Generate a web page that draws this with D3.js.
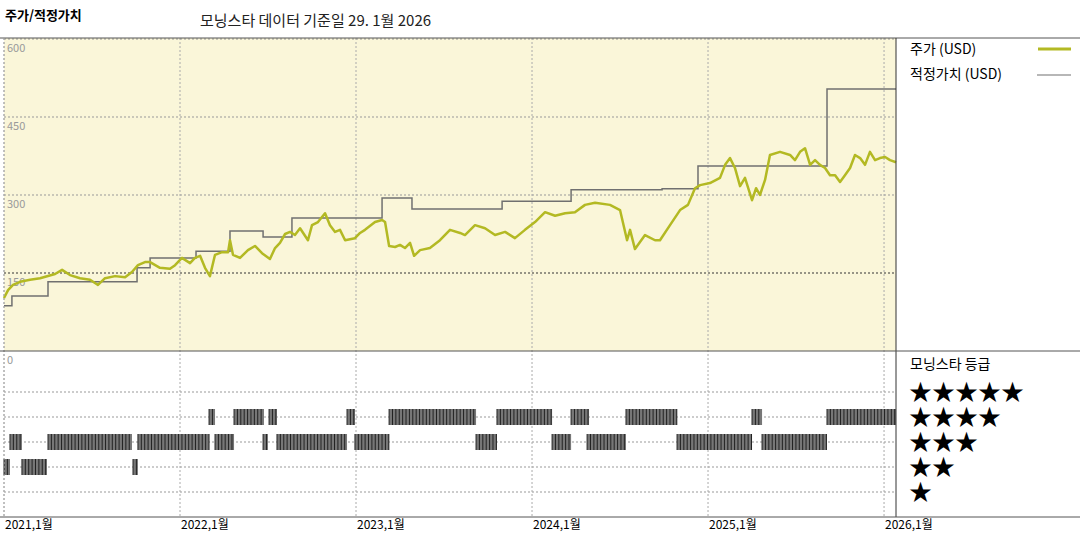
<!DOCTYPE html>
<html>
<head>
<meta charset="utf-8">
<script src="https://cdn.jsdelivr.net/npm/d3@7"></script>
<style>
  body { margin: 0; background: #fff; }
  text { font-family: "Noto Sans CJK KR", "DejaVu Sans", sans-serif; }
</style>
</head>
<body>
<svg id="chart" width="1080" height="540"></svg>
<script>
'use strict';

// time in decimal years
var priceT = [2021.000, 2021.023, 2021.051, 2021.091, 2021.148, 2021.205, 2021.290, 2021.330, 2021.375, 2021.432,
    2021.489, 2021.534, 2021.574, 2021.631, 2021.688, 2021.727, 2021.761, 2021.801, 2021.830, 2021.886,
    2021.943, 2021.972, 2022.011, 2022.057, 2022.085, 2022.114, 2022.142, 2022.170, 2022.199, 2022.239,
    2022.273, 2022.284, 2022.301, 2022.341, 2022.386, 2022.426, 2022.466, 2022.511, 2022.540, 2022.568,
    2022.597, 2022.625, 2022.653, 2022.682, 2022.727, 2022.750, 2022.784, 2022.824, 2022.852, 2022.881,
    2022.909, 2022.938, 2022.994, 2023.023, 2023.051, 2023.108, 2023.148, 2023.165, 2023.188, 2023.222,
    2023.250, 2023.278, 2023.307, 2023.330, 2023.364, 2023.420, 2023.477, 2023.534, 2023.591, 2023.619,
    2023.676, 2023.733, 2023.790, 2023.847, 2023.903, 2023.960, 2024.017, 2024.074, 2024.131, 2024.188,
    2024.244, 2024.301, 2024.358, 2024.443, 2024.500, 2024.540, 2024.557, 2024.585, 2024.642, 2024.699,
    2024.727, 2024.784, 2024.841, 2024.886, 2024.926, 2024.955, 2025.011, 2025.068, 2025.097, 2025.125,
    2025.153, 2025.182, 2025.210, 2025.250, 2025.273, 2025.295, 2025.324, 2025.352, 2025.409, 2025.466,
    2025.494, 2025.523, 2025.551, 2025.580, 2025.608, 2025.636, 2025.665, 2025.693, 2025.722, 2025.750,
    2025.778, 2025.807, 2025.835, 2025.864, 2025.892, 2025.920, 2025.949, 2025.977, 2026.006, 2026.034,
    2026.068];
var priceV = [102, 117, 127, 133, 137, 140, 148, 156, 146, 140,
    137, 127, 140, 144, 142, 152, 165, 171, 171, 160,
    158, 165, 179, 169, 179, 183, 160, 144, 185, 190,
    190, 213, 185, 179, 194, 202, 188, 177, 198, 208,
    225, 229, 223, 236, 213, 242, 248, 265, 242, 229,
    233, 213, 217, 227, 233, 248, 252, 248, 202, 200,
    204, 198, 208, 183, 194, 198, 213, 233, 227, 223,
    242, 236, 223, 229, 217, 233, 248, 267, 260, 265,
    267, 281, 285, 281, 271, 213, 233, 196, 223, 213,
    213, 242, 271, 281, 313, 319, 323, 333, 358, 371,
    352, 317, 333, 290, 313, 300, 329, 377, 383, 377,
    367, 383, 390, 358, 367, 358, 352, 338, 338, 325,
    338, 352, 377, 371, 358, 383, 367, 371, 373, 367,
    363];

var fairT = [2021.000, 2021.045, 2021.250, 2021.756, 2021.830, 2022.091, 2022.284, 2022.472, 2022.636,
    2023.148, 2023.318, 2023.830, 2024.222, 2024.739, 2024.943, 2025.676, 2026.068];
var fairV = [87, 106, 133, 160, 179, 192, 231, 219, 256, 294, 273, 288, 310, 312, 356, 504, 504];

// morningstar rating periods: [stars, from, to]
var ratingPeriods = [
    [2, 2021.000, 2021.034], [3, 2021.034, 2021.102], [2, 2021.102, 2021.244], [3, 2021.250, 2021.727],
    [2, 2021.733, 2021.761], [3, 2021.761, 2022.165], [4, 2022.165, 2022.199], [3, 2022.199, 2022.307],
    [4, 2022.307, 2022.477], [3, 2022.472, 2022.500], [4, 2022.506, 2022.551], [3, 2022.551, 2022.949],
    [4, 2022.949, 2022.994], [3, 2022.994, 2023.188], [4, 2023.188, 2023.682], [3, 2023.682, 2023.801],
    [4, 2023.801, 2024.114], [3, 2024.114, 2024.222], [4, 2024.222, 2024.324], [3, 2024.313, 2024.534],
    [4, 2024.534, 2024.824], [3, 2024.824, 2025.250], [4, 2025.250, 2025.307], [3, 2025.307, 2025.676],
    [4, 2025.676, 2026.068]
];

var yearTicks = [2021, 2022, 2023, 2024, 2025, 2026];
var priceTicks = [0, 150, 300, 450, 600];
var starRows = [5, 4, 3, 2, 1];

(function () {
    var svg = d3.select("#chart");
    var left = 4, right = 896, plotTop = 38, priceBottom = 351, plotBottom = 517;

    var x = d3.scaleLinear().domain([2021, 2026.068]).range([left, right]);
    var y = d3.scaleLinear().domain([0, 600]).range([priceBottom, 39]);
    var yStar = d3.scaleLinear().domain([5, 1]).range([392, 492]);

    // titles
    svg.append("text").attr("x", 5).attr("y", 20).attr("font-size", 13).attr("font-weight", "bold").text("주가/적정가치");
    svg.append("text").attr("x", 200).attr("y", 26).attr("font-size", 15).attr("fill", "#222").text("모닝스타 데이터 기준일 29. 1월 2026");

    // price panel background
    svg.append("rect").attr("x", left).attr("y", plotTop).attr("width", right - left).attr("height", priceBottom - plotTop)
        .attr("fill", "#faf6d9");

    // grid
    svg.selectAll("line.hgrid").data(priceTicks.slice(1)).enter().append("line")
        .attr("x1", left).attr("x2", right)
        .attr("y1", function (d) { return y(d); }).attr("y2", function (d) { return y(d); })
        .attr("stroke", function (d) { return d == 150 ? "#333" : "#999"; })
        .attr("stroke-dasharray", "2,2").attr("stroke-width", 1);

    svg.selectAll("line.rgrid").data(starRows).enter().append("line")
        .attr("x1", left).attr("x2", right)
        .attr("y1", function (d) { return yStar(d); }).attr("y2", function (d) { return yStar(d); })
        .attr("stroke", "#999").attr("stroke-dasharray", "2,2");

    svg.selectAll("line.vgrid").data(yearTicks).enter().append("line")
        .attr("x1", function (d) { return x(d); }).attr("x2", function (d) { return x(d); })
        .attr("y1", plotTop).attr("y2", plotBottom)
        .attr("stroke", "#aaa").attr("stroke-dasharray", "2,2");

    svg.selectAll("text.ytick").data(priceTicks).enter().append("text")
        .attr("x", 7).attr("y", function (d) { return y(d) + 13; })
        .attr("font-size", 11).attr("fill", "#999").attr("font-family", "DejaVu Sans")
        .text(function (d) { return d; });

    // fair value step line
    var fairData = fairT.map(function (t, i) { return [t, fairV[i]]; });
    svg.append("path").datum(fairData)
        .attr("d", d3.line().curve(d3.curveStepAfter).x(function (d) { return x(d[0]); }).y(function (d) { return y(d[1]); }))
        .attr("fill", "none").attr("stroke", "#707070").attr("stroke-width", 1.5);

    // price line
    var priceData = priceT.map(function (t, i) { return [t, priceV[i]]; });
    svg.append("path").datum(priceData)
        .attr("d", d3.line().x(function (d) { return x(d[0]); }).y(function (d) { return y(d[1]); }))
        .attr("fill", "none").attr("stroke", "#b3b923").attr("stroke-width", 2.5).attr("stroke-linejoin", "round");

    // rating bars, drawn as dense weekly ticks
    var gBars = svg.append("g");
    ratingPeriods.forEach(function (p) {
        var x0 = x(p[1]), x1 = x(p[2]), yc = yStar(p[0]);
        gBars.append("rect").attr("x", x0).attr("y", yc - 8).attr("width", Math.max(1, x1 - x0)).attr("height", 16)
            .attr("fill", "#777");
        for (var t = p[1]; t <= p[2]; t += 1 / 52) {
            gBars.append("line").attr("x1", x(t)).attr("x2", x(t)).attr("y1", yc - 8).attr("y2", yc + 8)
                .attr("stroke", "#222").attr("stroke-width", 1);
        }
    });

    // frame
    svg.append("line").attr("x1", 0).attr("x2", 1080).attr("y1", plotTop).attr("y2", plotTop).attr("stroke", "#555");
    svg.append("line").attr("x1", left).attr("x2", left).attr("y1", plotTop).attr("y2", plotBottom).attr("stroke", "#aaa").attr("stroke-dasharray", "2,2");
    svg.append("line").attr("x1", right).attr("x2", right).attr("y1", plotTop).attr("y2", plotBottom).attr("stroke", "#333");
    svg.append("line").attr("x1", 0).attr("x2", 1080).attr("y1", priceBottom).attr("y2", priceBottom).attr("stroke", "#555");
    svg.append("line").attr("x1", 0).attr("x2", 1080).attr("y1", plotBottom).attr("y2", plotBottom).attr("stroke", "#555");

    svg.selectAll("text.xtick").data(yearTicks).enter().append("text")
        .attr("x", function (d) { return x(d) + 1; }).attr("y", plotBottom + 12)
        .attr("font-size", 12).text(function (d) { return d + ",1월"; });

    // legend
    svg.append("text").attr("x", 910).attr("y", 54).attr("font-size", 14).text("주가 (USD)");
    svg.append("line").attr("x1", 1038).attr("x2", 1071).attr("y1", 49).attr("y2", 49).attr("stroke", "#b3b923").attr("stroke-width", 3);
    svg.append("text").attr("x", 910).attr("y", 79).attr("font-size", 14).text("적정가치 (USD)");
    svg.append("line").attr("x1", 1037).attr("x2", 1071).attr("y1", 75).attr("y2", 75).attr("stroke", "#707070").attr("stroke-width", 1.2);
    svg.append("text").attr("x", 910).attr("y", 369).attr("font-size", 14).text("모닝스타 등급");
    svg.selectAll("text.stars").data(starRows).enter().append("text")
        .attr("x", 909).attr("y", function (d) { return yStar(d) + 8; })
        .attr("font-size", 23).attr("font-family", "DejaVu Sans")
        .text(function (d) { return d3.range(d).map(function () { return "★"; }).join(""); });
})();
</script>
</body>
</html>
